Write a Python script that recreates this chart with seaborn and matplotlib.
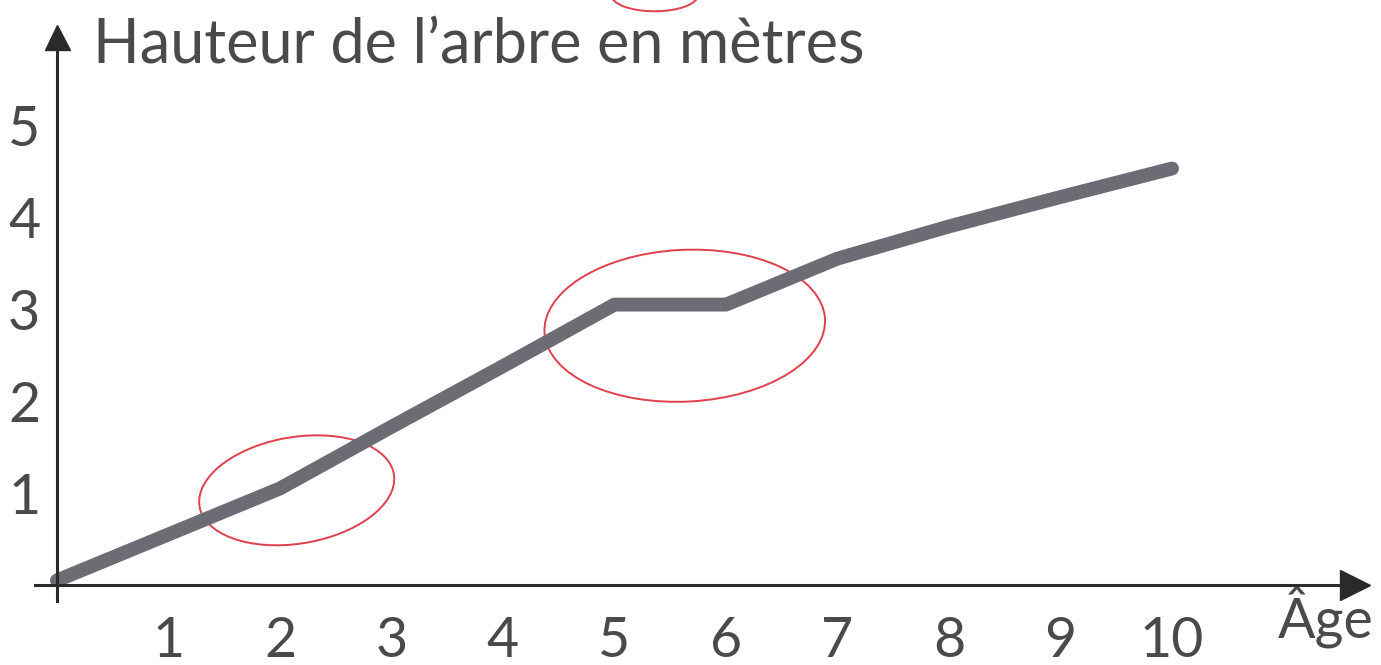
import matplotlib
matplotlib.use('Agg')
import matplotlib.pyplot as plt
from matplotlib.patches import Ellipse
import seaborn as sns
import pandas as pd

sns.set_style("white")
plt.rcParams['font.family'] = ['Lato', 'DejaVu Sans']

# valeurs
ages = [0, 1, 2, 3, 4, 5, 6, 7, 8, 9, 10]
hauteurs = [0.05, 0.55, 1.05, 1.72, 2.38, 3.05, 3.05, 3.55, 3.9, 4.22, 4.53]
x_ticks = [1, 2, 3, 4, 5, 6, 7, 8, 9, 10]
y_ticks = [1, 2, 3, 4, 5]
y_minor = [0.5, 1.5, 2.5, 3.5, 4.5]

df = pd.DataFrame({'age': ages, 'hauteur': hauteurs})

TXT = '#4a4a4a'
AXC = '#2a2a2a'
RED = '#e0404c'

fig = plt.figure(figsize=(13.81, 6.65), dpi=100)
ax = fig.add_axes([0.0251, 0.0968, 0.956, 0.8475])

sns.lineplot(data=df, x='age', y='hauteur', ax=ax, color='#6c6c74',
             linewidth=10, solid_capstyle='round', solid_joinstyle='round')

ax.set_xlim(-0.2, 11.64)
ax.set_ylim(-0.17, 5.96)

for s in ['top', 'right']:
    ax.spines[s].set_visible(False)
for s in ['left', 'bottom']:
    ax.spines[s].set_position(('data', 0))
    ax.spines[s].set_color(AXC)
    ax.spines[s].set_linewidth(2.2)

# flèches des axes
ax.plot(1, 0, '>', color=AXC, markersize=22, transform=ax.get_yaxis_transform(), clip_on=False)
ax.plot(0, 1, '^', color=AXC, markersize=18, transform=ax.get_xaxis_transform(), clip_on=False)

ax.set_xticks(x_ticks)
ax.set_yticks(y_ticks)
ax.set_yticks(y_minor, minor=True)
ax.tick_params(axis='x', direction='in', length=7, width=2, color=AXC,
               labelsize=40, labelcolor=TXT, pad=22)
ax.tick_params(axis='y', which='major', direction='in', length=9, width=1.5, color=AXC,
               labelsize=40, labelcolor=TXT, pad=12)
ax.tick_params(axis='y', which='minor', direction='in', length=9, width=1.5, color=AXC)
ax.set_xlabel('')
ax.set_ylabel('')

# annotations rouges à la main
ax.add_patch(Ellipse((2.15, 1.03), 1.78, 1.15, angle=14, fill=False, edgecolor=RED, linewidth=1.4))
ax.add_patch(Ellipse((5.63, 2.82), 2.52, 1.65, angle=4, fill=False, edgecolor=RED, linewidth=1.4))
ax.add_patch(Ellipse((5.36, 6.42), 0.78, 0.36, angle=0, fill=False, edgecolor=RED,
                     linewidth=1.4, clip_on=False))

fig.text(93 / 1381, 1 - 64 / 665, "Hauteur de l’arbre en mètres", fontsize=44,
         color=TXT, va='baseline', ha='left')
fig.text(1278 / 1381, 1 - 638 / 665, "Âge", fontsize=40, color=TXT, va='baseline', ha='left')

fig.savefig('out.png', dpi=100, facecolor='white')
